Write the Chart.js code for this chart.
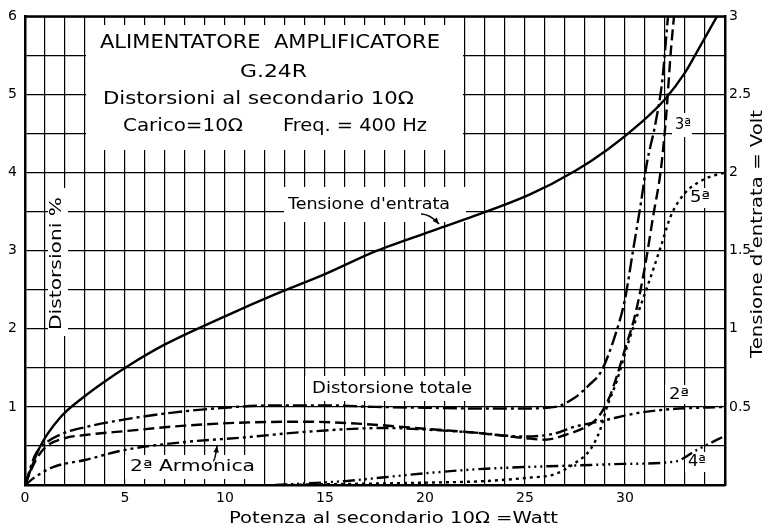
<!DOCTYPE html>
<html lang="it">
<head>
<meta charset="utf-8">
<title>Alimentatore amplificatore G.24R</title>
<script src="https://cdn.jsdelivr.net/npm/chart.js@4.4.1/dist/chart.umd.min.js"></script>
<style>
  html, body { margin: 0; padding: 0; background: #fff; }
  canvas { display: block; }
</style>
</head>
<body>
<canvas id="grafico" width="768" height="529"></canvas>
<script>
// potenza (W) e valori
const potTotale = [0, 0.5, 1, 2, 3, 5, 7.5, 10, 12.5, 15, 17.5, 20, 22.5, 25, 26.5, 27.5, 28.2, 28.8, 29.5, 30, 30.4, 30.8, 31.1, 31.5, 31.85, 32.15];
const distTotale = [0, 0.38, 0.53, 0.67, 0.74, 0.84, 0.93, 0.99, 1.02, 1.02, 1.0, 0.99, 0.98, 0.98, 1.0, 1.12, 1.28, 1.45, 1.91, 2.38, 3.0, 3.62, 4.13, 4.6, 5.15, 6.0];

const potSeconda = [0, 0.5, 1.4, 3, 5, 8, 11, 14, 18, 20, 22.5, 25, 26.5, 27.4, 29, 30.6, 32.25, 35];
const distSeconda = [0, 0.1, 0.23, 0.32, 0.45, 0.55, 0.61, 0.68, 0.73, 0.71, 0.67, 0.62, 0.66, 0.74, 0.83, 0.92, 0.97, 1.0];

const potTerza = [0, 0.5, 1, 2, 3, 5, 8, 11, 14, 17, 20, 22.5, 25, 26, 27, 28, 28.6, 29.2, 29.6, 30, 30.5, 31, 31.4, 31.8, 32.05, 32.3, 32.45];
const distTerza = [0, 0.3, 0.48, 0.6, 0.64, 0.69, 0.76, 0.8, 0.81, 0.78, 0.72, 0.67, 0.6, 0.58, 0.64, 0.74, 0.85, 1.11, 1.4, 1.74, 2.17, 2.8, 3.43, 4.05, 4.7, 5.58, 6.0];

const potQuarta = [12.5, 14, 16, 18, 20, 22.5, 25, 27.5, 30, 32.5, 33.6, 35];
const distQuarta = [0, 0.02, 0.05, 0.1, 0.15, 0.2, 0.23, 0.25, 0.27, 0.3, 0.45, 0.63];

const potQuinta = [13, 15, 18, 20, 23, 25, 26.5, 27.5, 28.25, 28.75, 29.1, 29.6, 30.1, 30.65, 31.2, 31.8, 32.3, 33, 33.7, 34.4, 35];
const distQuinta = [0, 0.01, 0.02, 0.03, 0.05, 0.09, 0.14, 0.28, 0.45, 0.7, 1.0, 1.34, 1.77, 2.2, 2.6, 3.06, 3.45, 3.74, 3.88, 3.96, 4.0];

const potTensione = [0, 0.75, 1.75, 2.9, 3.9, 5.25, 7, 10, 12.5, 15, 17.6, 21.1, 25.25, 27.5, 29.15, 30.8, 32, 33, 33.5, 34.6];
const voltTensione = [0, 0.245, 0.43, 0.56, 0.655, 0.77, 0.9, 1.08, 1.22, 1.35, 1.5, 1.66, 1.86, 2.01, 2.15, 2.32, 2.47, 2.64, 2.75, 3.0];

const tickX = [0, 5, 10, 15, 20, 25, 30];
const tickDist = [1, 2, 3, 4, 5, 6];
const tickVolt = [0.5, 1, 1.5, 2, 2.5, 3];

const FONT = "DejaVu Sans";
Chart.defaults.font.family = FONT;
Chart.defaults.color = "#000";

function punti(xs, ys) {
  return xs.map((x, i) => ({ x: x, y: ys[i] }));
}

function curva(label, xs, ys, dash, asse) {
  return {
    label: label,
    data: punti(xs, ys),
    yAxisID: asse || "y",
    borderColor: "#000",
    borderWidth: 2.4,
    borderDash: dash,
    borderCapStyle: "butt",
    pointRadius: 0,
    fill: false,
    cubicInterpolationMode: "monotone"
  };
}

// scrive un testo adattandolo in larghezza fra x1 e x2
function scrivi(ctx, testo, x1, x2, y, size) {
  ctx.save();
  ctx.font = size + "px '" + FONT + "'";
  ctx.textBaseline = "middle";
  ctx.textAlign = "left";
  const w = ctx.measureText(testo).width;
  ctx.translate(x1, y);
  ctx.scale((x2 - x1) / w, 1);
  ctx.fillText(testo, 0, 0);
  ctx.restore();
}

// testo verticale dal basso (yBasso) verso l'alto (yAlto)
function scriviVerticale(ctx, testo, x, yBasso, yAlto, size) {
  ctx.save();
  ctx.font = size + "px '" + FONT + "'";
  ctx.textBaseline = "middle";
  ctx.textAlign = "left";
  const w = ctx.measureText(testo).width;
  ctx.translate(x, yBasso);
  ctx.rotate(-Math.PI / 2);
  ctx.scale((yBasso - yAlto) / w, 1);
  ctx.fillText(testo, 0, 0);
  ctx.restore();
}

function freccia(ctx, x1, y1, x2, y2) {
  ctx.save();
  ctx.strokeStyle = "#000";
  ctx.fillStyle = "#000";
  ctx.lineWidth = 1.6;
  ctx.beginPath();
  ctx.moveTo(x1, y1);
  ctx.quadraticCurveTo((x1 + x2) / 2, y1, x2, y2);
  ctx.stroke();
  const a = Math.atan2(y2 - y1, x2 - (x1 + x2) / 2);
  ctx.beginPath();
  ctx.moveTo(x2, y2);
  ctx.lineTo(x2 - 7 * Math.cos(a - 0.4), y2 - 7 * Math.sin(a - 0.4));
  ctx.lineTo(x2 - 7 * Math.cos(a + 0.4), y2 - 7 * Math.sin(a + 0.4));
  ctx.closePath();
  ctx.fill();
  ctx.restore();
}

const riquadri = [
  [86, 25, 377, 125],   // intestazione
  [284, 187, 182, 35],  // Tensione d'entrata
  [305, 376, 178, 25],  // Distorsione totale
  [125, 455, 133, 24],  // 2ª Armonica
  [48, 188, 20, 148],   // Distorsioni %
  [665, 385, 27, 19],
  [672, 113, 20, 24],
  [687, 188, 25, 20],
  [685, 452, 23, 20]
];

const annotazioni = {
  id: "annotazioni",
  beforeDatasetsDraw(chart) {
    const ctx = chart.ctx;
    ctx.save();
    ctx.fillStyle = "#fff";
    riquadri.forEach(r => ctx.fillRect(r[0], r[1], r[2], r[3]));
    ctx.restore();
  },
  afterDatasetsDraw(chart) {
    const ctx = chart.ctx;
    const a = chart.chartArea;
    ctx.save();
    ctx.fillStyle = "#000";
    ctx.strokeStyle = "#000";
    ctx.lineWidth = 2.5;
    ctx.beginPath();
    ctx.moveTo(a.left - 1, a.top);
    ctx.lineTo(a.right + 1, a.top);
    ctx.stroke();

    scrivi(ctx, "ALIMENTATORE  AMPLIFICATORE", 100, 440, 43, 19);
    scrivi(ctx, "G.24R", 240, 307, 72, 18);
    scrivi(ctx, "Distorsioni al secondario 10\u03A9", 103, 414, 99, 18);
    scrivi(ctx, "Carico=10\u03A9", 123, 243, 126, 18);
    scrivi(ctx, "Freq. = 400 Hz", 283, 427, 126, 18);

    scrivi(ctx, "Tensione d'entrata", 288, 450, 205, 16);
    freccia(ctx, 421, 214, 439, 224);
    scrivi(ctx, "Distorsione totale", 312, 472, 389, 16);
    scrivi(ctx, "2\u00AA Armonica", 130, 255, 467, 16);
    freccia(ctx, 213, 461, 217, 446);

    scrivi(ctx, "2\u00AA", 669, 689, 395, 16);
    scrivi(ctx, "3\u00AA", 675, 691, 125, 16);
    scrivi(ctx, "5\u00AA", 690, 710, 198, 16);
    scrivi(ctx, "4\u00AA", 688, 706, 462, 16);

    scriviVerticale(ctx, "Distorsioni %", 57, 330, 197, 16);
    scriviVerticale(ctx, "Tensione d'entrata = Volt", 758, 358, 110, 16);
    scrivi(ctx, "Potenza al secondario 10\u03A9 =Watt", 229, 558, 519, 16);
    ctx.restore();
  }
};

const griglia = { color: "#000", lineWidth: 1.2, drawTicks: false };
const bordo = { color: "#000", width: 2.5 };
const fontTick = { size: 14 };

new Chart(document.getElementById("grafico"), {
  type: "line",
  data: {
    datasets: [
      curva("Tensione d'entrata", potTensione, voltTensione, [], "y2"),
      curva("Distorsione totale", potTotale, distTotale, [14, 4, 3, 4]),
      curva("2\u00AA armonica", potSeconda, distSeconda, [12, 4, 3, 4, 3, 4]),
      curva("3\u00AA armonica", potTerza, distTerza, [11, 5]),
      curva("4\u00AA armonica", potQuarta, distQuarta, [12, 4, 2, 4, 2, 4, 2, 4]),
      curva("5\u00AA armonica", potQuinta, distQuinta, [3, 4])
    ]
  },
  options: {
    responsive: false,
    animation: false,
    devicePixelRatio: 1,
    layout: { padding: { top: 15, left: 0, right: 0, bottom: 0 } },
    plugins: { legend: { display: false }, tooltip: { enabled: false } },
    scales: {
      x: {
        type: "linear",
        min: 0,
        max: 35,
        ticks: {
          stepSize: 1,
          autoSkip: false,
          maxRotation: 0,
          padding: 5,
          font: fontTick,
          callback: v => tickX.includes(v) ? v : ""
        },
        grid: griglia,
        border: bordo,
        afterFit(s) { s.height = 44; }
      },
      y: {
        position: "left",
        min: 0,
        max: 6,
        ticks: {
          stepSize: 0.5,
          autoSkip: false,
          padding: 8,
          font: fontTick,
          callback: v => tickDist.includes(v) ? v : ""
        },
        grid: griglia,
        border: bordo,
        afterFit(s) { s.width = 25; }
      },
      y2: {
        position: "right",
        min: 0,
        max: 3,
        ticks: {
          stepSize: 0.5,
          autoSkip: false,
          padding: 4,
          font: fontTick,
          callback: v => tickVolt.includes(v) ? v : ""
        },
        grid: { display: false, drawTicks: false },
        border: bordo,
        afterFit(s) { s.width = 43; }
      }
    }
  },
  plugins: [annotazioni]
});
</script>
</body>
</html>
